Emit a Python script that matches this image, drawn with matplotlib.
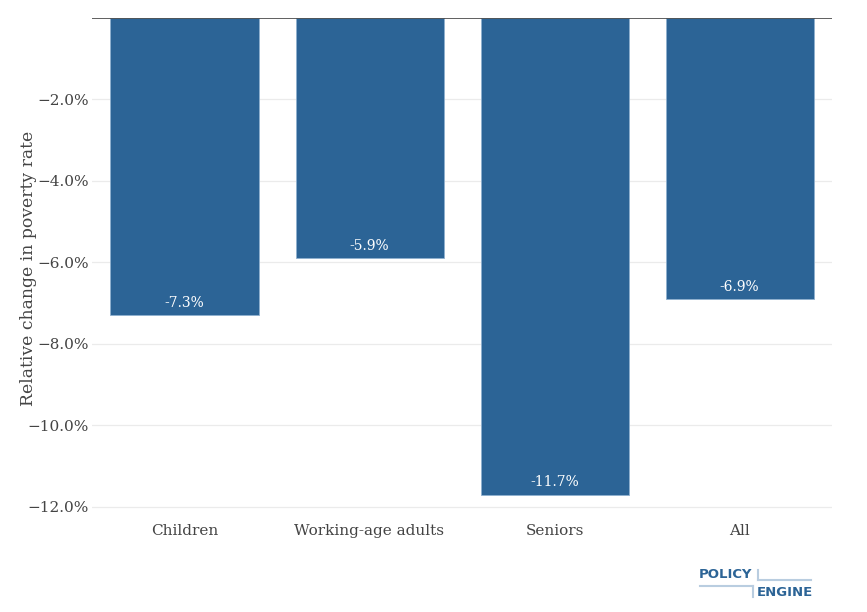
import matplotlib.pyplot as plt

categories = ["Children", "Working-age adults", "Seniors", "All"]
changes = [-7.3, -5.9, -11.7, -6.9]
yticks = [-2, -4, -6, -8, -10, -12]

plt.rcParams['font.family'] = ['DejaVu Serif']

fig = plt.figure(figsize=(8.67, 6.12), dpi=100)
ax = fig.add_axes([92/867, 1-510/612, 740/867, 492/612])

bars = ax.bar(range(len(categories)), changes, width=0.8, color="#2C6496",
              edgecolor="#8FB0CF", linewidth=0.6, zorder=2)
for i, v in enumerate(changes):
    ax.text(i, v + 0.13, f"{v:.1f}%", ha="center", va="bottom",
            color="white", fontsize=10, zorder=3)

ax.set_xlim(-0.5, len(categories) - 0.5)
ax.set_ylim(-12.08, 0)
ax.set_yticks(yticks)
ax.set_yticklabels([f"\u2212{abs(t):.1f}%" for t in yticks])
ax.set_xticks(range(len(categories)))
ax.set_xticklabels(categories)
ax.tick_params(axis="both", length=0, labelsize=11, colors="#444444")
ax.tick_params(axis="y", pad=2)
ax.tick_params(axis="x", pad=10)
ax.grid(axis="y", color="#EBEBEB", linewidth=0.9, zorder=0)
ax.axhline(0, color="#444444", linewidth=1.2, zorder=3)
for s in ax.spines.values():
    s.set_visible(False)
ax.set_ylabel("Relative change in poverty rate", fontsize=12.4, color="#444444")
ax.yaxis.set_label_coords(-(92 - 37) / 740, 1 - (268 - 18) / 492)

# logo
logo_c = "#2C6496"
line_c = "#B9CDE0"
fig.text(699/867, 1-575/612, "POLICY", fontsize=9.5, fontweight="bold", color=logo_c,
         family="DejaVu Sans", va="center", ha="left")
fig.text(757/867, 1-592/612, "ENGINE", fontsize=9.5, fontweight="bold", color=logo_c,
         family="DejaVu Sans", va="center", ha="left")
fig.add_artist(plt.Line2D([758/867, 811/867], [1-580/612, 1-580/612], color=line_c, lw=1.5))
fig.add_artist(plt.Line2D([758/867, 758/867], [1-570/612, 1-580/612], color=line_c, lw=1.5))
fig.add_artist(plt.Line2D([700/867, 753/867], [1-586/612, 1-586/612], color=line_c, lw=1.5))
fig.add_artist(plt.Line2D([753/867, 753/867], [1-586/612, 1-597/612], color=line_c, lw=1.5))

fig.savefig("out.png", dpi=100)
